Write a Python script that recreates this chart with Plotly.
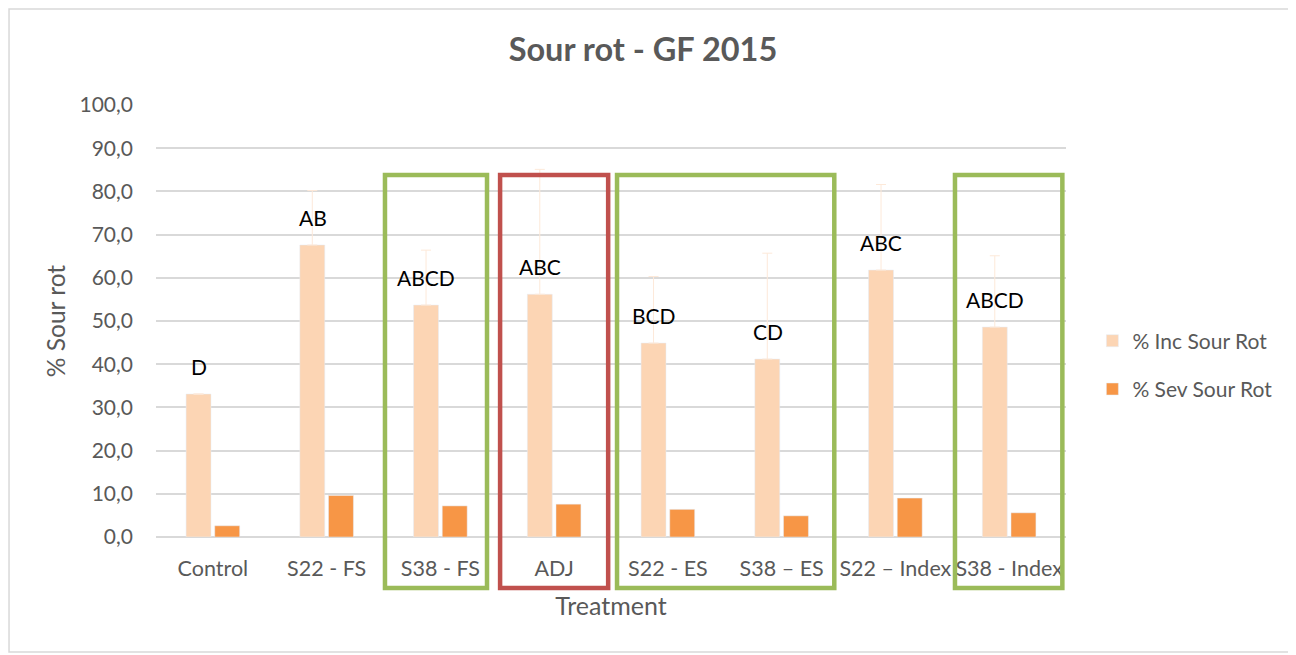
import plotly.graph_objects as go

categories = ["Control", "S22 - FS", "S38 - FS", "ADJ", "S22 - ES", "S38 – ES", "S22 – Index", "S38 - Index"]
inc_sour_rot = [33.1, 67.6, 53.7, 56.2, 44.9, 41.2, 61.8, 48.6]
inc_error = [0.0, 12.6, 12.7, 28.9, 15.4, 24.5, 19.8, 16.5]
sev_sour_rot = [2.6, 9.6, 7.2, 7.6, 6.4, 4.9, 9.0, 5.6]
letters = ["D", "AB", "ABCD", "ABC", "BCD", "CD", "ABC", "ABCD"]

FONT = "Lato"
GRAY = "#595959"
green = "#9BBB59"
red = "#C0504D"
# highlight boxes: left/right edge in category-axis units, colour
boxes = [(1.513, 2.41, green), (2.525, 3.475, red), (3.553, 5.463, green), (6.524, 7.468, green)]

fig = go.Figure()
fig.add_trace(go.Bar(
    x=categories, y=inc_sour_rot, name="% Inc Sour Rot",
    marker=dict(color="#FCD5B4"), legendgroup="a",
    error_y=dict(type="data", array=inc_error, symmetric=False, arrayminus=[0]*len(inc_error),
                 color="#FDE9D9", thickness=1, width=5),
))
fig.add_trace(go.Bar(
    x=categories, y=sev_sour_rot, name="% Sev Sour Rot",
    marker=dict(color="#F79646"), legendgroup="b",
))

for cat, v, lab in zip(categories, inc_sour_rot, letters):
    fig.add_annotation(x=cat, y=v, text=lab, showarrow=False, xref="x", yref="y",
                       xshift=-14, yshift=13, yanchor="bottom",
                       font=dict(family=FONT, size=21, color="#000000"))

for x0, x1, col in boxes:
    fig.add_shape(type="rect", xref="x", yref="paper", x0=x0, x1=x1, y0=-0.118, y1=0.838,
                  line=dict(color=col, width=4.5), fillcolor="rgba(0,0,0,0)", layer="above")

# outer chart border
fig.add_shape(type="rect", xref="paper", yref="paper", x0=-0.1615, x1=1.246, y0=-0.266, y1=1.222,
              line=dict(color="#D9D9D9", width=1.5))

fig.update_layout(
    width=1288, height=647,
    margin=dict(l=148, r=230, t=97, b=118),
    paper_bgcolor="white", plot_bgcolor="white",
    separators=",.",
    barmode="group", bargap=0.496, bargroupgap=0.13,
    font=dict(family=FONT, color=GRAY, size=21),
    title=dict(text="<b>Sour rot - GF 2015</b>", x=0.493, xanchor="center", y=0.935, yanchor="middle",
               font=dict(family=FONT, size=32.5, color=GRAY)),
    legend=dict(x=1.029, xanchor="left", y=0.398, yanchor="middle", tracegroupgap=18,
                font=dict(family=FONT, size=21, color=GRAY), bgcolor="rgba(0,0,0,0)"),
    showlegend=True,
)
fig.update_xaxes(
    type="category", showgrid=False, showline=False, ticks="", ticklabelstandoff=16,
    tickfont=dict(family=FONT, size=21.5, color=GRAY),
    title=dict(text="Treatment", font=dict(family=FONT, size=25, color=GRAY), standoff=17),
)
fig.update_yaxes(
    range=[0, 100], dtick=10, tickformat=".1f", showgrid=True, gridcolor="#D9D9D9", gridwidth=1.5,
    zeroline=True, zerolinecolor="#D9D9D9", zerolinewidth=1.5, showline=False, ticks="",
    ticklabelstandoff=22, tickfont=dict(family=FONT, size=21, color=GRAY),
    title=dict(text="% Sour rot", font=dict(family=FONT, size=24.5, color=GRAY), standoff=6),
)

fig.write_html("out.html")
